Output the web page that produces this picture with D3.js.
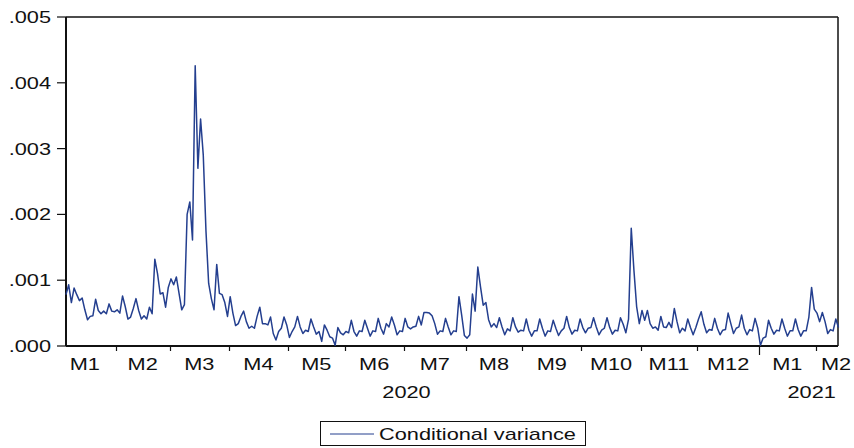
<!DOCTYPE html>
<html>
<head>
<meta charset="utf-8">
<script src="https://cdn.jsdelivr.net/npm/d3@7"></script>
<style>
  body { margin: 0; background: #fff; }
  text { font-family: "Liberation Sans", Arial, sans-serif; fill: #111; }
</style>
</head>
<body>
<script>
// conditional variance, daily (weekdays) from 2020-01-07 to 2021-02-11
var startDate = new Date(2020, 0, 7);
var endDate = new Date(2021, 1, 11);

var monthLabels = ["M1", "M2", "M3", "M4", "M5", "M6", "M7", "M8", "M9", "M10", "M11", "M12", "M1", "M2"];
var yearLabels = ["2020", "2021"];
var yTicks = [0, 0.001, 0.002, 0.003, 0.004, 0.005];
var seriesName = "Conditional variance";

// values, one per trading day
var variance = [
  // Jan 2020
  0.00078, 0.00093, 0.00066, 0.00088, 0.00078, 0.00069, 0.00073, 0.00055, 0.00040, 0.00045,
  0.00046, 0.00071, 0.00054, 0.00049, 0.00053, 0.00049, 0.00064, 0.00053, 0.00052,
  // Feb
  0.00055, 0.00050, 0.00076, 0.00060, 0.00041, 0.00044, 0.00057, 0.00072, 0.00054, 0.00041,
  0.00046, 0.00041, 0.00059, 0.00049, 0.00132, 0.00110, 0.00079, 0.00081, 0.00059, 0.00089,
  // Mar
  0.00102, 0.00093, 0.00105, 0.00080, 0.00055, 0.00063, 0.00200, 0.00219, 0.00161, 0.00426,
  0.00270, 0.00345, 0.00290, 0.00175, 0.00095, 0.00072, 0.00055, 0.00124, 0.00080, 0.00078,
  0.00066, 0.00045,
  // Apr
  0.00075, 0.00050, 0.00031, 0.00034, 0.00045, 0.00053, 0.00037, 0.00027, 0.00030, 0.00027,
  0.00045, 0.00059, 0.00034, 0.00034, 0.00032, 0.00044, 0.00019, 0.00009, 0.00022, 0.00027,
  0.00044, 0.00032,
  // May
  0.00013, 0.00022, 0.00029, 0.00045, 0.00029, 0.00019, 0.00024, 0.00022, 0.00041, 0.00029,
  0.00018, 0.00022, 0.00007, 0.00032, 0.00024, 0.00014, 0.00012, 0.00001, 0.00028, 0.00020,
  0.00017,
  // Jun
  0.00022, 0.00020, 0.00039, 0.00022, 0.00015, 0.00023, 0.00022, 0.00039, 0.00027, 0.00015,
  0.00023, 0.00022, 0.00042, 0.00027, 0.00018, 0.00034, 0.00029, 0.00044, 0.00032, 0.00017,
  0.00023, 0.00022,
  // Jul
  0.00042, 0.00029, 0.00026, 0.00029, 0.00030, 0.00045, 0.00032, 0.00051, 0.00051, 0.00050,
  0.00046, 0.00034, 0.00018, 0.00023, 0.00022, 0.00042, 0.00029, 0.00017, 0.00023, 0.00022,
  0.00075, 0.00047, 0.00016,
  // Aug
  0.00012, 0.00017, 0.00079, 0.00053, 0.00120, 0.00090, 0.00062, 0.00066, 0.00040, 0.00029,
  0.00034, 0.00028, 0.00043, 0.00029, 0.00017, 0.00026, 0.00023, 0.00043, 0.00029, 0.00021,
  0.00024,
  // Sep
  0.00023, 0.00041, 0.00024, 0.00015, 0.00023, 0.00023, 0.00041, 0.00027, 0.00015, 0.00023,
  0.00022, 0.00039, 0.00027, 0.00016, 0.00023, 0.00027, 0.00045, 0.00028, 0.00018, 0.00024,
  0.00023, 0.00041,
  // Oct
  0.00028, 0.00020, 0.00027, 0.00028, 0.00043, 0.00029, 0.00017, 0.00024, 0.00027, 0.00043,
  0.00028, 0.00018, 0.00024, 0.00023, 0.00043, 0.00033, 0.00020, 0.00041, 0.00179, 0.00115,
  0.00060, 0.00034,
  // Nov
  0.00054, 0.00039, 0.00054, 0.00034, 0.00027, 0.00029, 0.00024, 0.00045, 0.00029, 0.00028,
  0.00036, 0.00028, 0.00057, 0.00037, 0.00020, 0.00027, 0.00023, 0.00041, 0.00028, 0.00017,
  0.00028,
  // Dec
  0.00041, 0.00052, 0.00033, 0.00020, 0.00025, 0.00024, 0.00042, 0.00027, 0.00017, 0.00024,
  0.00025, 0.00050, 0.00034, 0.00019, 0.00027, 0.00029, 0.00047, 0.00027, 0.00017, 0.00025,
  0.00023, 0.00042, 0.00027,
  // Jan 2021
  0.00001, 0.00012, 0.00014, 0.00039, 0.00027, 0.00018, 0.00024, 0.00023, 0.00041, 0.00027,
  0.00015, 0.00023, 0.00023, 0.00041, 0.00025, 0.00015, 0.00023, 0.00023, 0.00044, 0.00089,
  0.00056,
  // Feb 2021
  0.00050, 0.00037, 0.00051, 0.00037, 0.00019, 0.00025, 0.00023, 0.00041, 0.00028
];

var isWeekday = function (d) { return d.getDay() !== 0 && d.getDay() !== 6; };
var dates = d3.timeDay.range(startDate, d3.timeDay.offset(endDate, 1)).filter(isWeekday);

var W = 854, H = 448;
var plot = { left: 66, right: 838, top: 17, bottom: 346 };
var stretch = 1.36;   // text in the reference is widened

var svg = d3.select("body").append("svg")
  .attr("width", W)
  .attr("height", H);

var x = d3.scaleLinear().domain([0, variance.length - 1]).range([plot.left, plot.right + 0.5]);
var y = d3.scaleLinear().domain([0, 0.005]).range([plot.bottom, plot.top]);

var label = function (g, px, py, txt, anchor) {
  g.append("g")
    .attr("transform", "translate(" + px + "," + py + ") scale(" + stretch + ",1)")
    .append("text")
    .attr("text-anchor", anchor)
    .style("font-size", "16px")
    .text(txt);
};

// month blocks: start index of each month (virtual start/end for partial first and last months)
var months = [];
dates.forEach(function (d, i) {
  var key = d.getFullYear() * 12 + d.getMonth();
  if (!months.length || months[months.length - 1].key !== key) {
    months.push({ key: key, start: i, year: d.getFullYear() });
  }
});
var fullCount = function (d) {
  var m0 = d3.timeMonth.floor(d);
  return d3.timeDay.range(m0, d3.timeMonth.offset(m0, 1)).filter(isWeekday).length;
};
var before = d3.timeDay.range(d3.timeMonth.floor(dates[0]), dates[0]).filter(isWeekday).length;
months.forEach(function (m, k) {
  m.vStart = k === 0 ? m.start - before : m.start;
  m.vEnd = k < months.length - 1 ? months[k + 1].start : m.start + fullCount(dates[m.start]);
  m.label = monthLabels[k];
  m.cx = Math.min((x(m.vStart - 0.5) + x(m.vEnd - 0.5)) / 2, 836);
});

// frame
var axes = svg.append("g");
axes.append("line").attr("x1", plot.left).attr("x2", plot.right).attr("y1", plot.top).attr("y2", plot.top)
  .attr("stroke", "#111").attr("stroke-width", 1.5);
axes.append("line").attr("x1", plot.right).attr("x2", plot.right).attr("y1", plot.top).attr("y2", plot.bottom)
  .attr("stroke", "#111").attr("stroke-width", 1.5);
axes.append("line").attr("x1", plot.left).attr("x2", plot.right).attr("y1", plot.bottom).attr("y2", plot.bottom)
  .attr("stroke", "#111").attr("stroke-width", 1.8);
axes.append("line").attr("x1", plot.left).attr("x2", plot.left).attr("y1", plot.top).attr("y2", plot.bottom)
  .attr("stroke", "#111").attr("stroke-width", 2);

// y ticks
yTicks.forEach(function (t) {
  axes.append("line").attr("x1", plot.left - 9).attr("x2", plot.left).attr("y1", y(t)).attr("y2", y(t))
    .attr("stroke", "#111").attr("stroke-width", 1.2);
  label(axes, 51, y(t) + 6, d3.format(".3f")(t).replace(/^0/, ""), "end");
});

// x ticks and labels
months.forEach(function (m, k) {
  if (k > 0) {
    var tx = Math.round(x(m.start - 0.5)) + 0.5;
    var newYear = dates[m.start].getMonth() === 0;
    axes.append("line").attr("x1", tx).attr("x2", tx)
      .attr("y1", plot.bottom).attr("y2", plot.bottom + (newYear ? 9 : 5))
      .attr("stroke", "#111").attr("stroke-width", 1.2);
  }
  label(axes, m.cx, 370, m.label, "middle");
});

yearLabels.forEach(function (yr) {
  var ms = months.filter(function (m) { return String(m.year) === yr; });
  var cx = (ms[0].cx + ms[ms.length - 1].cx) / 2;
  label(axes, cx, 398, yr, "middle");
});

// series
var line = d3.line()
  .x(function (d, i) { return x(i); })
  .y(function (d) { return y(d); });

svg.append("path")
  .datum(variance)
  .attr("d", line)
  .attr("fill", "none")
  .attr("stroke", "#243f8f")
  .attr("stroke-width", 1.5)
  .attr("stroke-linejoin", "round");

// legend
var lg = svg.append("g");
lg.append("rect").attr("x", 320.5).attr("y", 421.5).attr("width", 265).attr("height", 24)
  .attr("fill", "#fff").attr("stroke", "#111").attr("stroke-width", 1);
lg.append("line").attr("x1", 330).attr("x2", 374).attr("y1", 434).attr("y2", 434)
  .attr("stroke", "#243f8f").attr("stroke-width", 1);
label(lg, 379, 439.5, seriesName, "start");
</script>
</body>
</html>
